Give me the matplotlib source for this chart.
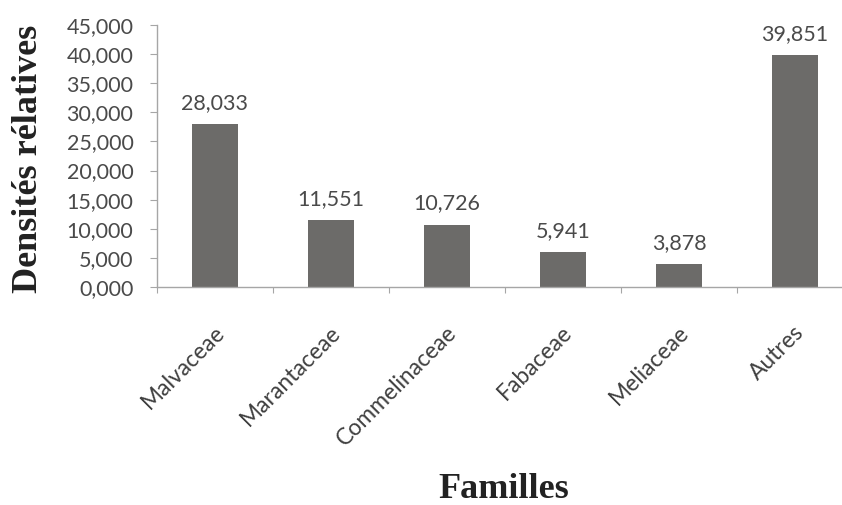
import matplotlib
matplotlib.use("Agg")
import matplotlib.pyplot as plt
from matplotlib.ticker import FuncFormatter, FixedLocator

familles = ["Malvaceae", "Marantaceae", "Commelinaceae", "Fabaceae", "Meliaceae", "Autres"]
densites = [28.033, 11.551, 10.726, 5.941, 3.878, 39.851]
y_ticks = [0, 5, 10, 15, 20, 25, 30, 35, 40, 45]

def fr(v, pos=None):
    return f"{v:.3f}".replace(".", ",")

fig = plt.figure(figsize=(8.42, 5.05), dpi=100)
ax = fig.add_axes([157/842, 1-287/505, (853-157)/842, (287-25)/505])

x = list(range(len(familles)))
ax.bar(x, densites, width=0.4, color="#6c6b69", zorder=2)

ax.set_xlim(-0.5, len(familles) - 0.5)
ax.set_ylim(0, 45)
ax.yaxis.set_major_locator(FixedLocator(y_ticks))
ax.yaxis.set_major_formatter(FuncFormatter(fr))

for s in ["top", "right"]:
    ax.spines[s].set_visible(False)
for s in ["left", "bottom"]:
    ax.spines[s].set_color("#a6a6a6")
    ax.spines[s].set_linewidth(1.0)

ax.tick_params(axis="y", length=5, color="#a6a6a6", labelsize=15.5,
               labelcolor="#4a4a4a", pad=12)
for lab in ax.get_yticklabels():
    lab.set_fontfamily("Lato")

# category boundary ticks on x axis
ax.set_xticks([i - 0.5 for i in range(len(familles) + 1)])
ax.set_xticklabels([])
ax.tick_params(axis="x", length=4, color="#a6a6a6")

for i, name in enumerate(familles):
    ax.annotate(name, xy=(i, 0), xycoords="data", xytext=(-1, -25),
                textcoords="offset points", rotation=45, ha="right", va="top",
                rotation_mode="anchor", fontsize=16.5, color="#404040",
                fontfamily="Lato")

for i, v in enumerate(densites):
    ax.annotate(fr(v), xy=(i, v), xytext=(0, 8), textcoords="offset points",
                ha="center", va="bottom", fontsize=15.5, color="#4a4a4a",
                fontfamily="Lato")

fig.text(29/842, 1 - 159/505, "Densités rélatives", rotation=90, ha="center",
         va="center", fontsize=26, fontweight="bold", family="Liberation Serif",
         color="#222222")
fig.text(504/842, 1 - 490/505, "Familles", ha="center", va="center",
         fontsize=26, fontweight="bold", family="Liberation Serif", color="#222222")

fig.savefig("out.png", dpi=100)
